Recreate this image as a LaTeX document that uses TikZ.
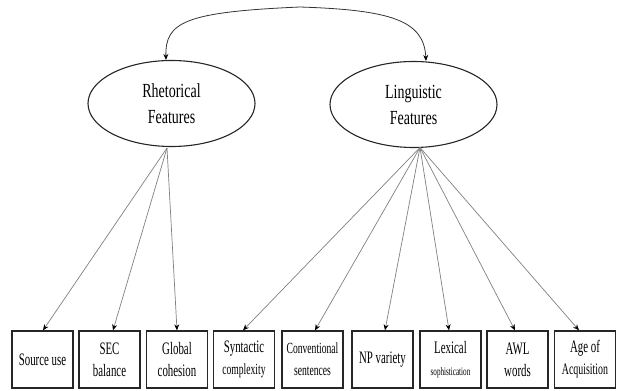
\documentclass[tikz,border=0pt]{standalone}
\usepackage{fontspec}
\setmainfont[FakeStretch=0.62]{Liberation Serif}
\newfontfamily\latentfont[FakeStretch=0.7]{Liberation Serif}
\usetikzlibrary{arrows.meta,shapes.geometric}
\tikzset{
  latent/.style={draw=black!85, line width=1.1pt, ellipse, inner sep=0pt,
    minimum width=167pt, minimum height=86pt, align=center,
    font=\latentfont\fontsize{20}{26}\selectfont},
  indicator/.style={draw=black!85, line width=1.3pt, rectangle, inner sep=0pt,
    minimum width=61pt, minimum height=57pt, align=center,
    font=\fontsize{17.5}{22}\selectfont},
  loading/.style={draw=black!50, line width=0.7pt,
    -{Stealth[length=6pt,width=5pt,color=black]}},
  covar/.style={draw=black!80, line width=0.8pt,
    {Stealth[length=6pt,width=5pt,color=black]}-{Stealth[length=6pt,width=5pt,color=black]}}
}
\begin{document}
\begin{tikzpicture}[x=1pt,y=-1pt]
\useasboundingbox (0,0) rectangle (617,390);

% latent factors
\node[latent] (rh) at (171.5,103.5) {Rhetorical\\Features};
\node[latent] (ln) at (413.5,104.5) {Linguistic\\Features};

% observed indicators
\node[indicator] (b1) at (42.5,359.5) {Source use};
\node[indicator] (b2) at (109.5,359.5) {SEC\\balance};
\node[indicator] (b3) at (177,359.5) {Global\\cohesion};
\node[indicator] (b4) at (244,359.5) {Syntactic\\{\fontsize{15.5}{22}\selectfont complexity}};
\node[indicator] (b5) at (312.5,359.5) {\fontsize{15.5}{20}\selectfont Conventional\\\fontsize{15.5}{20}\selectfont sentences};
\node[indicator] (b6) at (382.5,359.5) {NP variety};
\node[indicator] (b7) at (450.5,359.5) {Lexical\\{\fontsize{11.5}{22}\selectfont sophistication}};
\node[indicator] (b8) at (517.5,359.5) {AWL\\words};
\node[indicator] (b9) at (585,359.5) {Age of\\{\fontsize{16}{22}\selectfont Acquisition}};

% origins of the loading paths
\coordinate (rhsrc) at (167,148);
\coordinate (lnsrc) at (420,147.5);

% factor covariance
\draw[covar] ([xshift=-5.5pt]rh.north) .. controls (165,22) and (185,12) .. (300,7)
  .. controls (390,10) and (424,20) .. ([xshift=12.5pt]ln.north);

% loadings
\draw[loading] (rhsrc) -- ([xshift=0.5pt]b1.north);
\draw[loading] (rhsrc) -- ([xshift=3.5pt]b2.north);
\draw[loading] (rhsrc) -- (b3.north);
\draw[loading] (lnsrc) -- ([xshift=-1pt]b4.north);
\draw[loading] (lnsrc) -- ([xshift=2.5pt]b5.north);
\draw[loading] (lnsrc) -- ([xshift=2.5pt]b6.north);
\draw[loading] (lnsrc) -- ([xshift=-1.5pt]b7.north);
\draw[loading] (lnsrc) -- ([xshift=-2.5pt]b8.north);
\draw[loading] (lnsrc) -- ([xshift=-6pt]b9.north);
\end{tikzpicture}
\end{document}
